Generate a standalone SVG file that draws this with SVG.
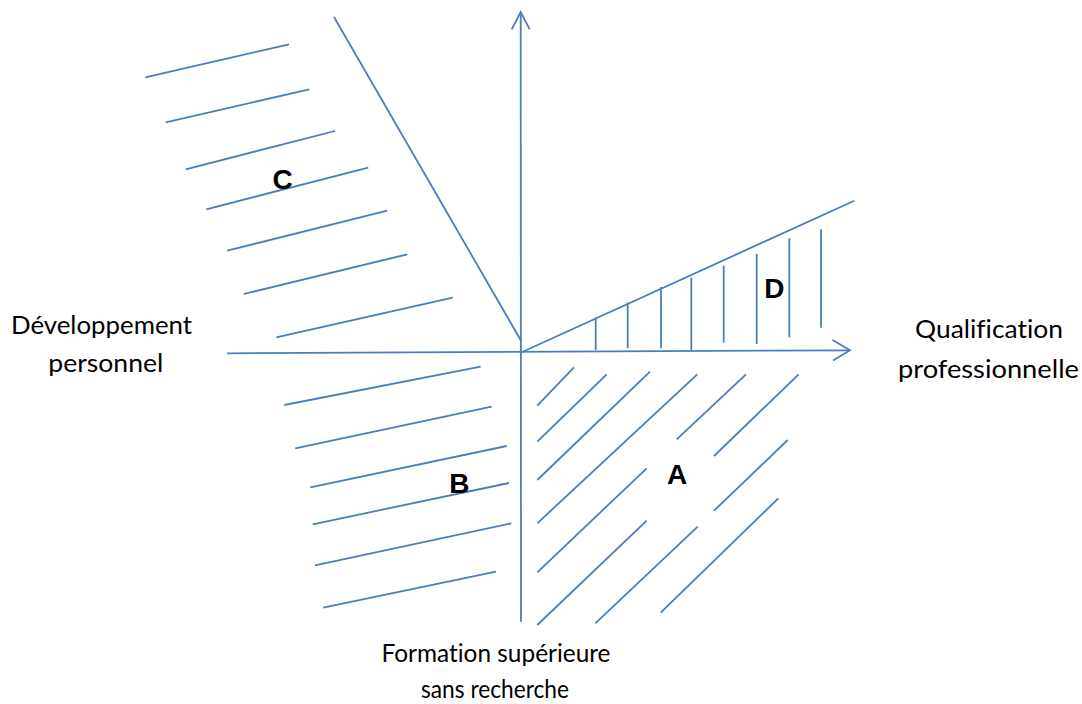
<svg xmlns="http://www.w3.org/2000/svg" width="1082" height="704" viewBox="0 0 1082 704">
<style>
.ln{stroke:#4A7EBB;stroke-width:1.8;fill:none;stroke-linecap:butt}
.lbl{font-family:"Liberation Sans",Arial,sans-serif;font-weight:bold;font-size:28px;fill:#000;text-anchor:middle}
.ax{font-family:Lato,"Liberation Sans",Arial,sans-serif;font-size:25px;fill:#000;text-anchor:middle;font-variant-ligatures:none;font-feature-settings:"liga" 0,"clig" 0}
</style>
<rect width="1082" height="704" fill="#fff"/>
<g id="connectors">
<line class="ln" x1="227" y1="353.3" x2="850" y2="350.3"/>
<polyline class="ln" points="832.5,340 850,350.3 833,360.5"/>
<line class="ln" x1="521" y1="621.7" x2="520.7" y2="12"/>
<polyline class="ln" points="511.7,29.3 520.7,12 529.7,29.3"/>
<line class="ln" x1="334" y1="17" x2="521.5" y2="341.5"/>
<line class="ln" x1="521.7" y1="352.3" x2="854.3" y2="200.7"/>
</g>
<g id="region-C">
<line class="ln" x1="145.3" y1="77.3" x2="289" y2="44.3"/>
<line class="ln" x1="165.7" y1="122.3" x2="309.3" y2="89.3"/>
<line class="ln" x1="185.7" y1="169.3" x2="335" y2="131"/>
<line class="ln" x1="206.3" y1="209.3" x2="368.3" y2="167.7"/>
<line class="ln" x1="227.3" y1="250.7" x2="387.3" y2="210.7"/>
<line class="ln" x1="243.7" y1="294" x2="407.3" y2="254.3"/>
<line class="ln" x1="276.3" y1="337.3" x2="452.7" y2="297.7"/>
<text class="lbl" x="282.5" y="189">C</text>
</g>
<g id="region-B">
<line class="ln" x1="284.3" y1="405" x2="480.7" y2="366.7"/>
<line class="ln" x1="295.3" y1="448.3" x2="491.7" y2="406.7"/>
<line class="ln" x1="310.3" y1="487.3" x2="506.7" y2="446"/>
<line class="ln" x1="312.7" y1="524.3" x2="509" y2="483"/>
<line class="ln" x1="315" y1="565.3" x2="511.3" y2="523.3"/>
<line class="ln" x1="323.3" y1="607.7" x2="496" y2="571.7"/>
<text class="lbl" x="459.3" y="493">B</text>
</g>
<g id="region-A">
<line class="ln" x1="537.3" y1="405.7" x2="574" y2="367.3"/>
<line class="ln" x1="537.3" y1="441.7" x2="606.7" y2="374.3"/>
<line class="ln" x1="537.3" y1="480" x2="650" y2="371.7"/>
<line class="ln" x1="537.3" y1="523.3" x2="697.3" y2="374.3"/>
<line class="ln" x1="537.3" y1="572.3" x2="646.7" y2="468.3"/>
<line class="ln" x1="537.3" y1="625" x2="646.7" y2="520.7"/>
<line class="ln" x1="676.7" y1="439.3" x2="746" y2="374.3"/>
<line class="ln" x1="714" y1="456" x2="798.7" y2="374.3"/>
<line class="ln" x1="714" y1="510.7" x2="787.7" y2="440"/>
<line class="ln" x1="595.3" y1="623.3" x2="697.7" y2="526.7"/>
<line class="ln" x1="660.7" y1="612.7" x2="778.3" y2="498.3"/>
<text class="lbl" x="677" y="484">A</text>
</g>
<g id="region-D">
<line class="ln" x1="595.7" y1="317.5" x2="595.7" y2="350"/>
<line class="ln" x1="627.7" y1="302.5" x2="627.7" y2="348.3"/>
<line class="ln" x1="661" y1="287" x2="661" y2="348.3"/>
<line class="ln" x1="691.3" y1="277.7" x2="691.3" y2="350"/>
<line class="ln" x1="723.7" y1="265.7" x2="723.7" y2="342.7"/>
<line class="ln" x1="756.7" y1="254" x2="756.7" y2="344"/>
<line class="ln" x1="789.3" y1="238.3" x2="789.3" y2="337.3"/>
<line class="ln" x1="821" y1="229.3" x2="821" y2="327.7"/>
<text class="lbl" x="774.3" y="297.5">D</text>
</g>
<g id="label-left">
<text class="ax" x="101.5" y="334.3" textLength="181" lengthAdjust="spacingAndGlyphs">Développement</text>
<text class="ax" x="105.8" y="371.7" textLength="115" lengthAdjust="spacingAndGlyphs">personnel</text>
</g>
<g id="label-right">
<text class="ax" x="989" y="338.3" textLength="148" lengthAdjust="spacingAndGlyphs">Qualification</text>
<text class="ax" x="988.5" y="377.7" textLength="181" lengthAdjust="spacingAndGlyphs">professionnelle</text>
</g>
<g id="label-bottom">
<text class="ax" x="496" y="661.7" textLength="229" lengthAdjust="spacingAndGlyphs">Formation supérieure</text>
<text class="ax" x="495" y="698.3" textLength="148" lengthAdjust="spacingAndGlyphs">sans recherche</text>
</g>
</svg>
